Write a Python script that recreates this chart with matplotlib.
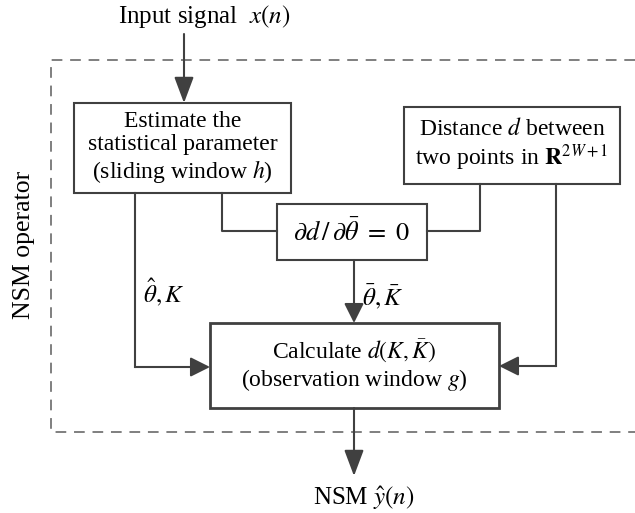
import matplotlib
matplotlib.use("Agg")
import matplotlib.pyplot as plt
from matplotlib.patches import Rectangle

plt.rcParams['font.family'] = ['Liberation Serif', 'DejaVu Serif']
plt.rcParams['mathtext.fontset'] = 'stix'

# text of the diagram
input_label = r"Input signal  $x(n)$"
output_label = r"NSM $\hat{y}(n)$"
operator_label = "NSM operator"
estimate_text = "Estimate the\nstatistical parameter\n(sliding window $h$)"
distance_text = "Distance $d$ between\ntwo points in $\\mathbf{R}^{2W+1}$"
deriv_text = r"$\partial d\,/\,\partial\bar{\theta}\ =\ 0$"
calc_text = "Calculate $d(K,\\bar{K})$\n(observation window $g$)"
theta_hat_label = r"$\hat{\theta},K$"
theta_bar_label = r"$\bar{\theta},\bar{K}$"

LINE = '#404040'
FS = 17


def box(ax, x0, y0, x1, y1, text, lw=1.5, fs=FS):
    ax.add_patch(Rectangle((x0, y0), x1 - x0, y1 - y0, fill=False,
                           edgecolor=LINE, lw=lw))
    ax.text((x0 + x1) / 2, (y0 + y1) / 2, text, ha='center', va='center',
            fontsize=fs, linespacing=1.12)


def arrow(ax, start, end, big=False):
    hl, hw = (1.6, 0.6) if big else (1.2, 0.6)
    ax.annotate('', xy=end, xytext=start,
                arrowprops=dict(arrowstyle=f'-|>,head_length={hl},head_width={hw}',
                                color=LINE, lw=1.5, shrinkA=0, shrinkB=0))


def main():
    fig = plt.figure(figsize=(6.35, 5.13), dpi=100)
    ax = fig.add_axes([0, 0, 1, 1])
    ax.set_xlim(0, 635)
    ax.set_ylim(513, 0)
    ax.axis('off')

    # dashed operator frame
    ax.plot([635, 51, 51, 635], [60, 60, 432, 432], color='#7f7f7f', lw=1.4,
            ls=(0, (5.5, 4)))
    ax.text(24, 245, operator_label, rotation=90, ha='center', va='center',
            fontsize=18.5)

    # boxes
    box(ax, 74, 103, 291, 193, estimate_text)
    box(ax, 404, 107, 620, 184, distance_text)
    box(ax, 277, 204, 427, 260, deriv_text, fs=19)
    box(ax, 210, 323, 499, 408, calc_text, lw=2.0)

    # input / output
    ax.text(204, 17, input_label, ha='center', va='center', fontsize=18)
    arrow(ax, (184, 34), (184, 103), big=True)
    arrow(ax, (354, 408), (354, 476), big=True)
    ax.text(364, 498, output_label, ha='center', va='center', fontsize=18)

    # connections into the derivative box
    ax.plot([222, 222, 277], [193, 231, 231], color=LINE, lw=1.5)
    ax.plot([480, 480, 427], [184, 231, 231], color=LINE, lw=1.5)

    # into the calculate box
    ax.plot([135, 135], [193, 367], color=LINE, lw=1.5)
    arrow(ax, (135, 367), (210, 367))
    arrow(ax, (354, 260), (354, 323))
    ax.plot([556, 556], [184, 366], color=LINE, lw=1.5)
    arrow(ax, (556, 366), (499, 366))

    ax.text(143, 292, theta_hat_label, ha='left', va='center', fontsize=FS + 1)
    ax.text(362, 297, theta_bar_label, ha='left', va='center', fontsize=FS + 1)

    fig.savefig('out.png', dpi=100)


if __name__ == "__main__":
    main()
